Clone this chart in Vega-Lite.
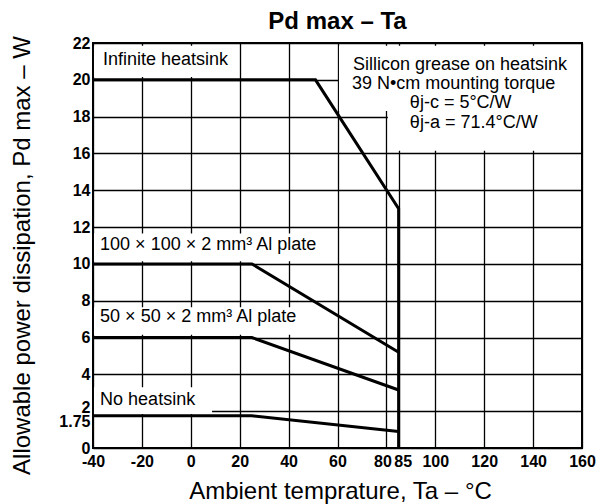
{
  "$schema": "https://vega.github.io/schema/vega-lite/v6.json",
  "width": 489,
  "height": 405,
  "autosize": {"type": "none"},
  "padding": {"left": 93, "top": 43, "right": 24, "bottom": 56},
  "background": "white",
  "title": {"text": "Pd max – Ta", "fontSize": 24, "fontWeight": "bold", "font": "Liberation Sans", "color": "black", "anchor": "middle", "offset": 15, "dy": 14},
  "config": {
    "view": {"stroke": "black", "strokeWidth": 2},
    "text": {"font": "Liberation Sans"}
  },
  "datasets": {
    "curves": [
      {"series": "Infinite heatsink", "i": 1, "x": -40, "y": 20},
      {"series": "Infinite heatsink", "i": 2, "x": 51, "y": 20},
      {"series": "Infinite heatsink", "i": 3, "x": 85, "y": 13},
      {"series": "Infinite heatsink", "i": 4, "x": 85, "y": 0},
      {"series": "100 plate", "i": 1, "x": -40, "y": 10},
      {"series": "100 plate", "i": 2, "x": 25, "y": 10},
      {"series": "100 plate", "i": 3, "x": 85, "y": 5.2},
      {"series": "50 plate", "i": 1, "x": -40, "y": 6},
      {"series": "50 plate", "i": 2, "x": 25, "y": 6},
      {"series": "50 plate", "i": 3, "x": 85, "y": 3.15},
      {"series": "No heatsink", "i": 1, "x": -40, "y": 1.75},
      {"series": "No heatsink", "i": 2, "x": 25, "y": 1.75},
      {"series": "No heatsink", "i": 3, "x": 85, "y": 0.9}
    ],
    "boxes": [
      {"x": -39.6, "x2": 19.6, "y": 20.15, "y2": 21.85},
      {"x": 60.6, "x2": 159.6, "y": 18.3, "y2": 21.85},
      {"x": 80.6, "x2": 159.6, "y": 16.15, "y2": 18.3},
      {"x": -39.6, "x2": 59.6, "y": 10.15, "y2": 11.65},
      {"x": -39.6, "x2": 59.6, "y": 6.15, "y2": 7.65},
      {"x": -39.6, "x2": 8.7, "y": 1.85, "y2": 3.3}
    ],
    "labels": [
      {"label": "Infinite heatsink", "x": -35.9, "y": 21.1},
      {"label": "Sillicon grease on heatsink", "x": 66.3, "y": 20.82},
      {"label": "39 N•cm mounting torque", "x": 65.9, "y": 19.76},
      {"label": "θj-c = 5°C/W", "x": 89.6, "y": 18.72},
      {"label": "θj-a = 71.4°C/W", "x": 89.6, "y": 17.66},
      {"label": "100 × 100 × 2 mm³ Al plate", "x": -37.1, "y": 11.03},
      {"label": "50 × 50 × 2 mm³ Al plate", "x": -37.1, "y": 7.12},
      {"label": "No heatsink", "x": -37.1, "y": 2.61}
    ]
  },
  "encoding": {
    "x": {
      "field": "x", "type": "quantitative",
      "scale": {"domain": [-40, 160], "nice": false, "zero": false},
      "axis": {
        "values": [-40, -20, 0, 20, 40, 60, 80, 85, 100, 120, 140, 160],
        "labelExpr": "'' + datum.value",
        "title": "Ambient temprature, Ta – °C",
        "grid": true, "gridColor": "black", "gridWidth": 1.3, "gridOpacity": 1,
        "domain": false, "ticks": false,
        "labelFont": "Liberation Sans", "labelFontWeight": "bold", "labelFontSize": 16, "labelColor": "black",
        "labelPadding": 5, "labelOverlap": false, "labelFlush": false,
        "labelOffset": {"condition": [{"test": "datum.value == 80", "value": -4}, {"test": "datum.value == 85", "value": 4}], "value": 0},
        "titleFont": "Liberation Sans", "titleFontSize": 24, "titleFontWeight": "normal", "titleColor": "black",
        "titleX": 247, "titleY": 43, "titleBaseline": "middle", "titleAlign": "center"
      }
    },
    "y": {
      "field": "y", "type": "quantitative",
      "scale": {"domain": [0, 22], "nice": false, "zero": false},
      "axis": {
        "values": [0, 1.75, 2, 4, 6, 8, 10, 12, 14, 16, 18, 20, 22],
        "labelExpr": "'' + datum.value",
        "title": "Allowable power dissipation, Pd max – W",
        "grid": true, "gridColor": "black", "gridWidth": 1.3,
        "gridOpacity": {"condition": {"test": "datum.value == 1.75", "value": 0}, "value": 1},
        "domain": false, "ticks": false,
        "labelFont": "Liberation Sans", "labelFontWeight": "bold", "labelFontSize": 16, "labelColor": "black",
        "labelPadding": 3, "labelOverlap": false, "labelFlush": false,
        "labelOffset": {"condition": [{"test": "datum.value == 2", "value": -4}, {"test": "datum.value == 1.75", "value": 6}], "value": 0},
        "titleFont": "Liberation Sans", "titleFontSize": 24, "titleFontWeight": "normal", "titleColor": "black",
        "titleX": -71, "titleY": 212, "titleAngle": -90, "titleBaseline": "middle", "titleAlign": "center"
      }
    }
  },
  "layer": [
    {
      "data": {"name": "boxes"},
      "mark": {"type": "rect", "fill": "white", "stroke": null},
      "encoding": {"x2": {"field": "x2"}, "y2": {"field": "y2"}}
    },
    {
      "data": {"name": "curves"},
      "mark": {"type": "line", "color": "black", "strokeWidth": 3, "strokeJoin": "miter"},
      "encoding": {
        "detail": {"field": "series"},
        "order": {"field": "i", "type": "quantitative"}
      }
    },
    {
      "data": {"name": "labels"},
      "mark": {"type": "text", "align": "left", "baseline": "middle", "fontSize": 18, "color": "black", "font": "Liberation Sans"},
      "encoding": {"text": {"field": "label"}}
    }
  ]
}
